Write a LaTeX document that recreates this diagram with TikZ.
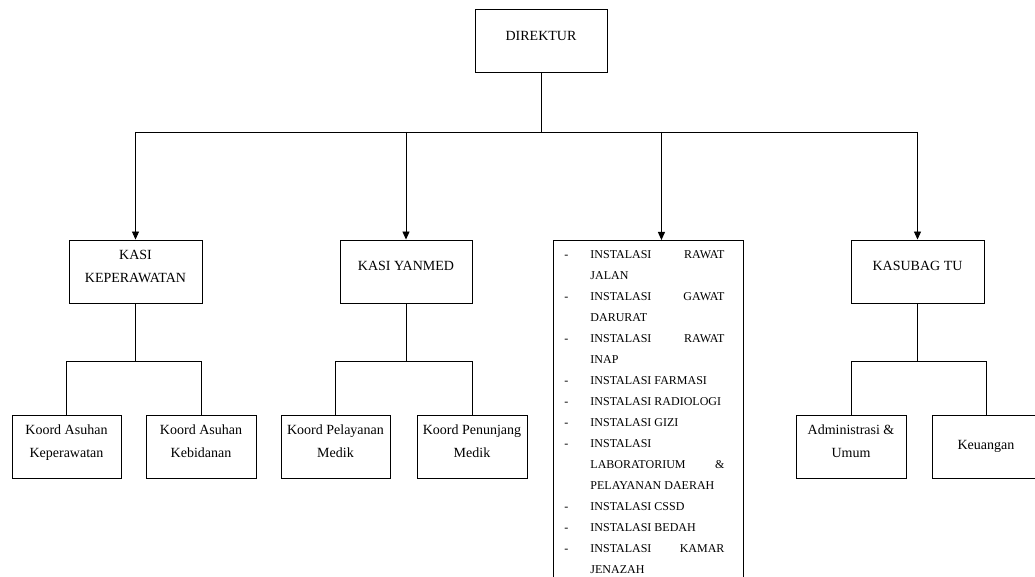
\documentclass[tikz,border=0pt]{standalone}
\usepackage{fontspec}
\setmainfont{Liberation Serif}
\usepackage{tikz}
\usetikzlibrary{arrows.meta}
\usetikzlibrary{positioning, calc}

\begin{document}
\begin{tikzpicture}[x=1pt, y=-1pt,
    box/.style={draw, line width=0.9pt, align=center, inner sep=0pt,
        minimum height=63pt, text depth=11pt, font=\fontsize{14}{23}\selectfont},
    link/.style={line width=0.9pt},
    arr/.style={line width=0.9pt, -{Triangle[width=7pt,length=8pt]}}]
    \useasboundingbox (0,0) rectangle (1035,577);
    \clip (0,0) rectangle (1035,577);

    % boxes: name / x / y / width / text
    \foreach \n/\x/\y/\w/\t in {
        dir/541/41/132/DIREKTUR,
        kasi1/135.5/271.5/133/{KASI\\KEPERAWATAN},
        kasi2/406/271.5/132/KASI YANMED,
        kasub/917.5/271.5/133/KASUBAG TU,
        k1/66.5/446.5/109/{Koord Asuhan\\Keperawatan},
        k2/201/446.5/110/{Koord Asuhan\\Kebidanan},
        k3/335.5/446.5/109/{Koord Pelayanan\\Medik},
        k4/472/446.5/110/{Koord Penunjang\\Medik},
        adm/851/446.5/110/{Administrasi \&\\Umum}}
        \node[box, minimum width=\w pt] (\n) at (\x,\y) {\t};
    \node[box, text depth=3pt, minimum width=108pt] (keu) at (986,446.5) {Keuangan};

    % the list of instalasi
    \node[draw, line width=0.9pt, anchor=north west, inner xsep=0pt, inner ysep=3pt,
        font=\fontsize{12}{21}\selectfont] (inst) at (553,240) {%
        \begin{tabular}{@{\hspace{11pt}}p{26pt}@{}p{134pt}@{\hspace{19pt}}}
        - & INSTALASI\hfill RAWAT\\
          & JALAN\\
        - & INSTALASI\hfill GAWAT\\
          & DARURAT\\
        - & INSTALASI\hfill RAWAT\\
          & INAP\\
        - & INSTALASI FARMASI\\
        - & INSTALASI RADIOLOGI\\
        - & INSTALASI GIZI\\
        - & INSTALASI\\
          & LABORATORIUM\hfill \&\\
          & PELAYANAN DAERAH\\
        - & INSTALASI CSSD\\
        - & INSTALASI BEDAH\\
        - & INSTALASI\hfill KAMAR\\
          & JENAZAH\\
        \end{tabular}};

    % first level
    \coordinate (bar) at (541,132);
    \draw[link] (dir.south) -- (bar);
    \draw[link] (kasi1 |- bar) -- (kasub |- bar);
    \foreach \n in {kasi1, kasi2, kasub}
        \draw[arr] (\n |- bar) -- (\n.north);
    \draw[arr] ([xshift=13pt]inst.north |- bar) -- ([xshift=13pt]inst.north);

    % second level
    \foreach \p/\a/\b in {kasi1/k1/k2, kasi2/k3/k4, kasub/adm/keu} {
        \path (\p.south) ++(0,58) coordinate (\p bar);
        \draw[link] (\p.south) -- (\p bar);
        \draw[link] (\a.north) |- (\p bar) -| (\b.north);
    }
\end{tikzpicture}
\end{document}
